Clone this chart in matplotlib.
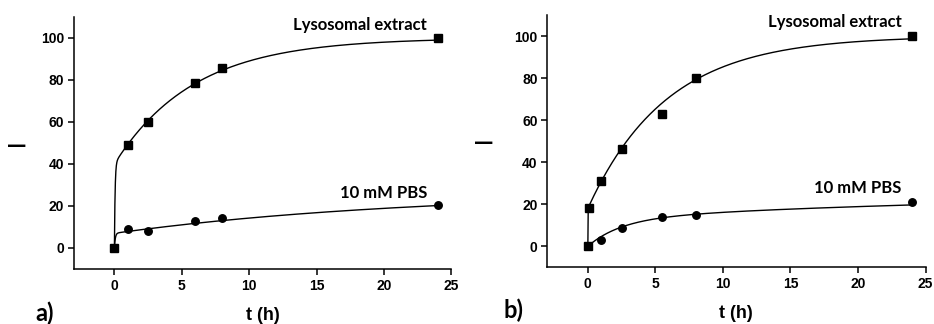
import numpy as np
import matplotlib
matplotlib.use("Agg")
import matplotlib.pyplot as plt

# panel a) readings
t_a = [0, 1, 2.5, 6, 8, 24]
lyso_a = [0, 49.1, 59.9, 78.5, 85.6, 100]
pbs_a = [0, 9.2, 8.1, 13.0, 14.3, 20.6]

# panel b) readings
t_lyso_b = [0, 0.08, 1, 2.5, 5.5, 8, 24]
lyso_b = [0, 18, 31, 46.5, 63, 80, 100]
t_pbs_b = [0, 1, 2.5, 5.5, 8, 24]
pbs_b = [0, 2.9, 8.9, 13.8, 15.1, 21]

# two-phase fit parameters (fast amplitude, fast k, slow amplitude, slow k)
fit_lyso_a = (40, 20, 60, 0.17)
fit_pbs_a = (7, 15, 20, 0.045)
fit_lyso_b = (18, 80, 82, 0.172)
fit_pbs_b = (13, 0.4, 13, 0.03)

xticks = [0, 5, 10, 15, 20, 25]
yticks = [0, 20, 40, 60, 80, 100]


def two_phase(t, p):
    a1, k1, a2, k2 = p
    return a1 * (1 - np.exp(-k1 * t)) + a2 * (1 - np.exp(-k2 * t))


tick_font = dict(family="Liberation Sans", weight="bold", size=10)
lab_font = dict(family="Lato", weight="bold", size=12)

fig = plt.figure(figsize=(9.34, 3.24), dpi=100)
ax_a = fig.add_axes([0.0792, 0.1698, 0.404, 0.7778])
ax_b = fig.add_axes([0.586, 0.175, 0.405, 0.7787])

tt = np.linspace(0, 24, 2000)

panels = [
    (ax_a, t_a, lyso_a, t_a, pbs_a, fit_lyso_a, fit_pbs_a, 106, 26.4),
    (ax_b, t_lyso_b, lyso_b, t_pbs_b, pbs_b, fit_lyso_b, fit_pbs_b, 106.5, 27.9),
]

for ax, tl, yl, tp, yp, fl, fp, ylys, ypbs in panels:
    ax.plot(tt, two_phase(tt, fp), color="black", lw=1.0, zorder=2)
    ax.plot(tt, two_phase(tt, fl), color="black", lw=1.0, zorder=2)
    ax.plot(tp, yp, "o", color="black", ms=5.4, zorder=3)
    ax.plot(tl, yl, "s", color="black", ms=6.3, zorder=4)
    ax.set_xlim(-3, 25)
    ax.set_ylim(-10, 110)
    ax.set_xticks(xticks)
    ax.set_yticks(yticks)
    ax.spines["top"].set_visible(False)
    ax.spines["right"].set_visible(False)
    for s in ("left", "bottom"):
        ax.spines[s].set_linewidth(1.1)
    ax.tick_params(direction="out", length=4, width=1.1, pad=3)
    for lab in ax.get_xticklabels() + ax.get_yticklabels():
        lab.set_fontproperties(tick_font)
    ax.text(23.2, ylys, "Lysosomal extract", ha="right", va="center", **lab_font)
    ax.text(23.2, ypbs, "10 mM PBS", ha="right", va="center", **lab_font)

# x labels, y label dashes and panel letters
fig.text(263 / 934, 1 - 315 / 324, "t (h)", ha="center", va="center",
         family="Liberation Sans", weight="bold", size=13)
fig.text(736 / 934, 1 - 313 / 324, "t (h)", ha="center", va="center",
         family="Liberation Sans", weight="bold", size=13)
fig.text(16.5 / 934, 1 - 145.7 / 324, "\u2014", ha="center", va="center",
         family="DejaVu Sans", weight="bold", size=14)
fig.text(484 / 934, 1 - 143 / 324, "\u2014", ha="center", va="center",
         family="DejaVu Sans", weight="bold", size=14)
fig.text(35 / 934, 1 - 313 / 324, "a)", ha="left", va="center",
         family="Lato", weight="bold", size=17)
fig.text(504 / 934, 1 - 310 / 324, "b)", ha="left", va="center",
         family="Lato", weight="bold", size=17)

fig.savefig("out.png", dpi=100)
